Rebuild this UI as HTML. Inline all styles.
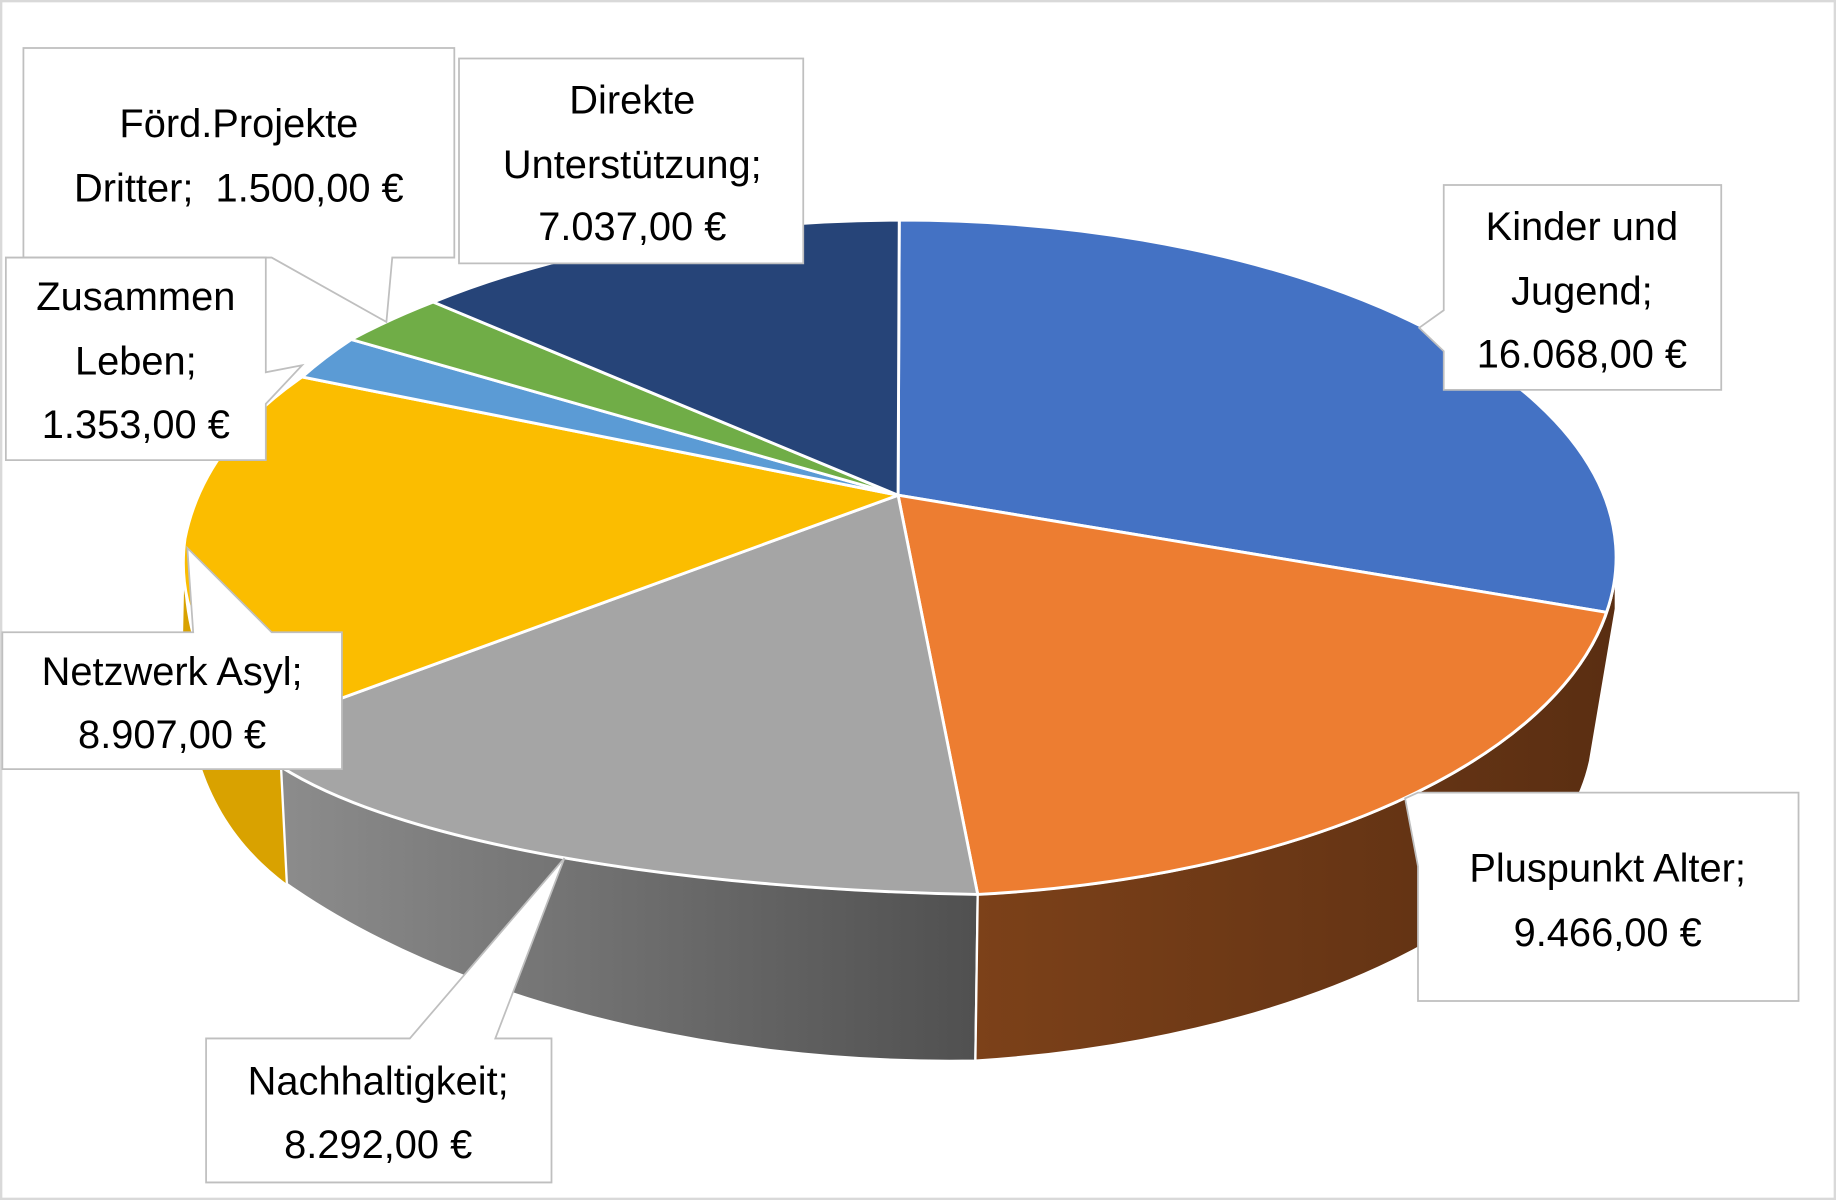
<!DOCTYPE html>
<html><head><meta charset="utf-8"><style>
html,body{margin:0;padding:0;background:#fff;}
svg{display:block;}
text{font-family:"Liberation Sans",sans-serif;font-size:34px;fill:#000;text-anchor:middle;}
</style></head><body>
<svg width="1836" height="1200" viewBox="0 0 1568 1025" preserveAspectRatio="none" xmlns="http://www.w3.org/2000/svg">
<defs>
<linearGradient id="gs" x1="0" x2="1" y1="0" y2="0"><stop offset="0" stop-color="#8c8c8c"/><stop offset="1" stop-color="#505050"/></linearGradient>
<linearGradient id="os" x1="0" x2="1" y1="0" y2="0"><stop offset="0" stop-color="#7c4119"/><stop offset="1" stop-color="#5a2e12"/></linearGradient>
</defs>
<rect x="1" y="1" width="1566" height="1023" fill="#fff" stroke="#d9d9d9" stroke-width="2"/>
<!-- sides -->
<path d="M158,462 C152,530 170,600 240,650 L245,755 C185,710 160,650 156,560 Z" fill="#d9a200"/>
<path d="M240,655 C350,725 600,760 835,764 L833,906 C600,910 380,850 245,755 Z" fill="url(#gs)" stroke="#fff" stroke-width="2"/>
<path d="M835,764 A612,288 0 0 0 1380,476 L1380,520 L1358,650 A612,288 0 0 1 833,906 Z" fill="url(#os)" stroke="#fff" stroke-width="2"/>
<!-- top faces -->
<g stroke="#fff" stroke-width="2.5" stroke-linejoin="round">
<path d="M767,423 L768,188 A612,288 0 0 1 1372,523 Z" fill="#4472c4"/>
<path d="M767,423 L1372,523 A612,288 0 0 1 835,764 Z" fill="#ed7d31"/>
<path d="M767,423 L835,764 C600,760 350,725 240,655 L238,616 Z" fill="#a5a5a5"/>
<path d="M767,423 L238,616 C175,570 150,520 158,460 C170,400 210,355 258,322 Z" fill="#fbbd00"/>
<path d="M767,423 L258,322 A612,288 0 0 1 300,290 Z" fill="#5b9bd5"/>
<path d="M767,423 L300,290 A612,288 0 0 1 370,258 Z" fill="#70ad47"/>
<path d="M767,423 L370,258 A612,288 0 0 1 768,188 Z" fill="#264478"/>
</g>
<!-- labels -->
<g fill="#fff" stroke="#bfbfbf" stroke-width="1.5">
<path d="M20,41 H388 V220 H335 L330,275 L232,220 H20 Z"/>
<path d="M392,50 H686 V225 H392 Z"/>
<path d="M1233,158 H1470 V333 H1233 V300 L1212,280 L1233,265 Z"/>
<path d="M5,220 H227 V318 L258,312 L227,345 V393 H5 Z"/>
<path d="M2,540 H165 L160,468 L232,540 H292 V657 H2 Z"/>
<path d="M1211,677 H1536 V855 H1211 V740 L1200,682 Z"/>
<path d="M176,887 H350 L482,733 L423,887 H471 V1010 H176 Z"/>
</g>
<text x="204" y="117">Förd.Projekte</text>
<text x="204" y="172">Dritter;&#160; 1.500,00 €</text>
<text x="540" y="97">Direkte</text>
<text x="540" y="152">Unterstützung;</text>
<text x="540" y="205">7.037,00 €</text>
<text x="1351" y="205">Kinder und</text>
<text x="1351" y="260">Jugend;</text>
<text x="1351" y="314">16.068,00 €</text>
<text x="116" y="265">Zusammen</text>
<text x="116" y="320">Leben;</text>
<text x="116" y="374">1.353,00 €</text>
<text x="147" y="585">Netzwerk Asyl;</text>
<text x="147" y="639">8.907,00 €</text>
<text x="1373" y="753">Pluspunkt Alter;</text>
<text x="1373" y="808">9.466,00 €</text>
<text x="323" y="935">Nachhaltigkeit;</text>
<text x="323" y="989">8.292,00 €</text>
</svg>
</body></html>
